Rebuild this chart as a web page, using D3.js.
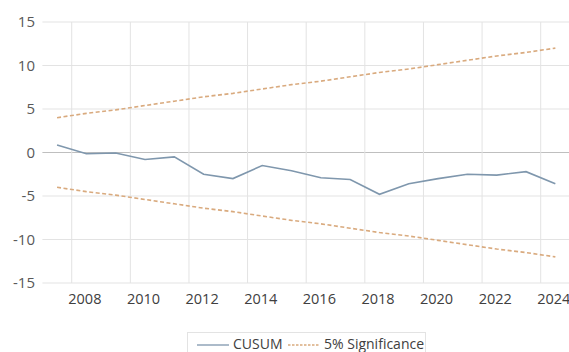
<!DOCTYPE html>
<html>
<head>
<meta charset="utf-8">
<script src="https://cdn.jsdelivr.net/npm/d3@7"></script>
<style>
  body { margin: 0; background: #fff; }
  text { font-family: "Open Sans", "Liberation Sans", sans-serif; }
</style>
</head>
<body>
<div id="chart"></div>
<script>
// Data
const years = [2007, 2008, 2009, 2010, 2011, 2012, 2013, 2014, 2015, 2016, 2017, 2018, 2019, 2020, 2021, 2022, 2023, 2024];
const cusum = [0.85, -0.15, -0.05, -0.8, -0.5, -2.5, -3.0, -1.5, -2.1, -2.9, -3.1, -4.8, -3.6, -3.0, -2.5, -2.6, -2.2, -3.6];
const upper = [4.0, 4.5, 4.9, 5.4, 5.9, 6.4, 6.8, 7.3, 7.8, 8.2, 8.7, 9.2, 9.6, 10.1, 10.6, 11.1, 11.5, 12.0];
const lower = [-4.0, -4.5, -4.9, -5.4, -5.9, -6.4, -6.8, -7.3, -7.8, -8.2, -8.7, -9.2, -9.6, -10.1, -10.6, -11.1, -11.5, -12.0];
const yTicks = [15, 10, 5, 0, -5, -10, -15];
const xLabels = [2008, 2010, 2012, 2014, 2016, 2018, 2020, 2022, 2024];

const W = 569, H = 352;
const margin = { top: 22, right: 0, bottom: 69, left: 42.4 };

const svg = d3.select("#chart")
    .append("svg")
    .attr("width", W)
    .attr("height", H);

// Scales: category axis like a spreadsheet line chart
const x = d3.scaleBand()
    .domain(years)
    .range([margin.left, 570])
    .padding(0);

const y = d3.scaleLinear()
    .domain([-15, 15])
    .range([H - margin.bottom, margin.top]);

const cx = d => x(d) + x.bandwidth() / 2;

// Horizontal gridlines
svg.append("g")
    .selectAll("line")
    .data(yTicks)
    .enter().append("line")
    .attr("x1", margin.left)
    .attr("x2", W)
    .attr("y1", d => y(d))
    .attr("y2", d => y(d))
    .attr("stroke", d => d === 0 ? "#bfbfbf" : "#e3e3e3")
    .attr("stroke-width", 1);

// Vertical gridlines at category boundaries before each labelled year
svg.append("g")
    .selectAll("line")
    .data(xLabels)
    .enter().append("line")
    .attr("x1", d => x(d))
    .attr("x2", d => x(d))
    .attr("y1", y(15))
    .attr("y2", y(-15))
    .attr("stroke", "#e3e3e3")
    .attr("stroke-width", 1);

// Y tick labels
svg.append("g")
    .selectAll("text")
    .data(yTicks)
    .enter().append("text")
    .attr("x", 35)
    .attr("y", d => y(d))
    .attr("dy", "0.35em")
    .attr("text-anchor", "end")
    .attr("fill", "#595959")
    .style("font-size", "15px")
    .text(d => d);

// X tick labels
svg.append("g")
    .selectAll("text")
    .data(xLabels)
    .enter().append("text")
    .attr("x", d => cx(d) - 1.5)
    .attr("y", 299)
    .attr("dy", "0.35em")
    .attr("text-anchor", "middle")
    .attr("fill", "#404040")
    .style("font-size", "14.5px")
    .text(d => d);

// Lines
const line = vals => d3.line()
    .x((d, i) => cx(years[i]))
    .y(d => y(d))(vals);

const dashColor = "#d9aa7e";
[upper, lower].forEach(vals => {
    svg.append("path")
        .attr("d", line(vals))
        .attr("fill", "none")
        .attr("stroke", dashColor)
        .attr("stroke-width", 1.6)
        .attr("stroke-dasharray", "4,2.5");
});

svg.append("path")
    .attr("d", line(cusum))
    .attr("fill", "none")
    .attr("stroke", "#7f97ad")
    .attr("stroke-width", 1.6);

// Legend
const legend = svg.append("g");
legend.append("rect")
    .attr("x", 187.5)
    .attr("y", 332.5)
    .attr("width", 238)
    .attr("height", 24)
    .attr("fill", "#fff")
    .attr("stroke", "#e3e3e3");

legend.append("line")
    .attr("x1", 197).attr("x2", 229)
    .attr("y1", 345).attr("y2", 345)
    .attr("stroke", "#7f97ad")
    .attr("stroke-width", 1.3);
legend.append("text")
    .attr("x", 233).attr("y", 344)
    .attr("dy", "0.35em")
    .attr("fill", "#404040")
    .style("font-size", "14px")
    .text("CUSUM");

legend.append("line")
    .attr("x1", 288).attr("x2", 320)
    .attr("y1", 345).attr("y2", 345)
    .attr("stroke", dashColor)
    .attr("stroke-width", 1.3)
    .attr("stroke-dasharray", "2.5,1.5");
legend.append("text")
    .attr("x", 324).attr("y", 344)
    .attr("dy", "0.35em")
    .attr("fill", "#404040")
    .style("font-size", "14px")
    .text("5% Significance");
</script>
</body>
</html>
